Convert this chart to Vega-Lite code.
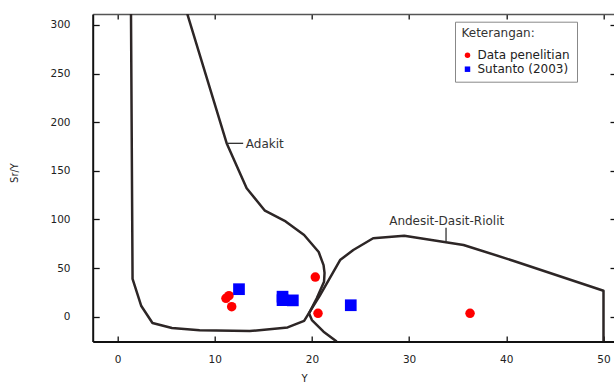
{
  "$schema": "https://vega.github.io/schema/vega-lite/v6.json",
  "width": 521.3,
  "height": 327.5,
  "autosize": {"type": "none"},
  "padding": {"left": 92.7, "top": 14, "right": 0, "bottom": 45.5},
  "background": "white",
  "config": {"view": {"stroke": null}, "font": "DejaVu Sans", "axis": {"grid": false}},
  "datasets": {
    "curves": [
      {"curve": "Adakit", "order": 1, "x": 7.18, "y": 311.4},
      {"curve": "Adakit", "order": 2, "x": 11.23, "y": 178.4},
      {"curve": "Adakit", "order": 3, "x": 13.29, "y": 132.1},
      {"curve": "Adakit", "order": 4, "x": 15.17, "y": 109},
      {"curve": "Adakit", "order": 5, "x": 17.3, "y": 98},
      {"curve": "Adakit", "order": 6, "x": 19.2, "y": 84},
      {"curve": "Adakit", "order": 7, "x": 20.7, "y": 66.5},
      {"curve": "Adakit", "order": 8, "x": 21.2, "y": 53},
      {"curve": "Adakit", "order": 9, "x": 21.3, "y": 45},
      {"curve": "Adakit", "order": 10, "x": 21.25, "y": 36},
      {"curve": "Adakit", "order": 11, "x": 20.5, "y": 18.9},
      {"curve": "Adakit", "order": 12, "x": 19.7, "y": 3.5},
      {"curve": "Adakit", "order": 13, "x": 20.0, "y": -3.4},
      {"curve": "Adakit", "order": 14, "x": 21.2, "y": -15.4},
      {"curve": "Adakit", "order": 15, "x": 22.55, "y": -25.5},
      {"curve": "ADR", "order": 1, "x": 1.39, "y": 311.4},
      {"curve": "ADR", "order": 2, "x": 1.55, "y": 39},
      {"curve": "ADR", "order": 3, "x": 2.45, "y": 11},
      {"curve": "ADR", "order": 4, "x": 3.6, "y": -6.5},
      {"curve": "ADR", "order": 5, "x": 5.6, "y": -11.7},
      {"curve": "ADR", "order": 6, "x": 8.45, "y": -14},
      {"curve": "ADR", "order": 7, "x": 13.6, "y": -14.8},
      {"curve": "ADR", "order": 8, "x": 17.5, "y": -11},
      {"curve": "ADR", "order": 9, "x": 19.2, "y": -4.2},
      {"curve": "ADR", "order": 10, "x": 20.8, "y": 21.5},
      {"curve": "ADR", "order": 11, "x": 22.9, "y": 58.3},
      {"curve": "ADR", "order": 12, "x": 24.26, "y": 68.6},
      {"curve": "ADR", "order": 13, "x": 26.3, "y": 80.7},
      {"curve": "ADR", "order": 14, "x": 29.5, "y": 83.3},
      {"curve": "ADR", "order": 15, "x": 35.6, "y": 73.8},
      {"curve": "ADR", "order": 16, "x": 40.7, "y": 57.6},
      {"curve": "ADR", "order": 17, "x": 50.0, "y": 26.7},
      {"curve": "ADR", "order": 18, "x": 50.0, "y": -25.5}
    ],
    "connectors": [
      {"x1": 11.23, "x2": 12.93, "y1": 178.3, "y2": 178.3},
      {"x1": 33.8, "x2": 33.8, "y1": 91.5, "y2": 77.1}
    ],
    "labels": [
      {"label": "Adakit", "x": 13.2, "y": 177.3},
      {"label": "Andesit-Dasit-Riolit", "x": 27.95, "y": 98.7}
    ],
    "penelitian": [
      {"series": "Data penelitian", "x": 20.35, "y": 40.8},
      {"series": "Data penelitian", "x": 11.16, "y": 18.9},
      {"series": "Data penelitian", "x": 11.47, "y": 21.6},
      {"series": "Data penelitian", "x": 11.75, "y": 10.3},
      {"series": "Data penelitian", "x": 20.63, "y": 3.5},
      {"series": "Data penelitian", "x": 36.27, "y": 3.5}
    ],
    "sutanto": [
      {"series": "Sutanto (2003)", "x": 12.5, "y": 28.3},
      {"series": "Sutanto (2003)", "x": 16.98, "y": 20.6},
      {"series": "Sutanto (2003)", "x": 16.98, "y": 17},
      {"series": "Sutanto (2003)", "x": 18.04, "y": 16.8},
      {"series": "Sutanto (2003)", "x": 24.0, "y": 11.8}
    ]
  },
  "layer": [
    {
      "data": {"name": "curves"},
      "mark": {"type": "line", "color": "#2d2626", "strokeWidth": 2.5, "strokeJoin": "round", "clip": true},
      "encoding": {
        "x": {"field": "x", "type": "quantitative", "scale": {"domain": [-2.55, 51.08], "nice": false, "zero": false},
          "axis": {"orient": "bottom", "values": [0, 10, 20, 30, 40, 50], "format": "d", "tickSize": -5.5, "tickWidth": 1.3, "tickColor": "#111", "domainColor": "#111", "domainWidth": 2, "labelFont": "DejaVu Sans", "labelFontSize": 10.5, "labelColor": "#222", "labelPadding": 18.3, "labelFlush": false, "title": "Y", "titleFont": "DejaVu Sans", "titleFontSize": 10, "titleFontWeight": "normal", "titleColor": "#222", "titleX": 211.3, "titleY": 32, "titleBaseline": "top", "titleAlign": "center"}},
        "y": {"field": "y", "type": "quantitative", "scale": {"domain": [-25.5, 311.3], "nice": false, "zero": false},
          "axis": {"orient": "left", "values": [0, 50, 100, 150, 200, 250, 300], "format": "d", "tickSize": -6.5, "tickWidth": 1.3, "tickColor": "#111", "domainColor": "#111", "domainWidth": 2, "labelFont": "DejaVu Sans", "labelFontSize": 10.5, "labelColor": "#222", "labelPadding": 29.2, "labelFlush": false, "title": "Sr/Y", "titleFont": "DejaVu Sans", "titleFontSize": 10, "titleFontWeight": "normal", "titleColor": "#222", "titleX": -78, "titleY": 158.5, "titleAngle": -90, "titleAlign": "center", "titleBaseline": "middle"}},
        "detail": {"field": "curve", "type": "nominal"},
        "order": {"field": "order", "type": "quantitative"}
      }
    },
    {
      "data": {"name": "connectors"},
      "mark": {"type": "rule", "color": "#333", "strokeWidth": 1.3},
      "encoding": {
        "x": {"field": "x1", "type": "quantitative", "scale": {"domain": [-2.55, 51.08], "nice": false, "zero": false},
          "axis": {"orient": "top", "values": [0, 10, 20, 30, 40, 50], "labels": false, "tickSize": -5, "tickWidth": 1.3, "tickColor": "#111", "domainColor": "#555", "domainWidth": 1.5, "title": null}},
        "x2": {"field": "x2"},
        "y": {"field": "y1", "type": "quantitative", "scale": {"domain": [-25.5, 311.3], "nice": false, "zero": false},
          "axis": {"orient": "right", "values": [0, 50, 100, 150, 200, 250, 300], "labels": false, "tickSize": -4, "tickWidth": 1.3, "tickColor": "#111", "domain": false, "title": null}},
        "y2": {"field": "y2"}
      }
    },
    {
      "data": {"name": "labels"},
      "mark": {"type": "text", "align": "left", "baseline": "middle", "font": "DejaVu Sans", "fontSize": 12, "color": "#333"},
      "encoding": {
        "x": {"field": "x", "type": "quantitative", "scale": {"domain": [-2.55, 51.08], "nice": false, "zero": false}, "axis": null},
        "y": {"field": "y", "type": "quantitative", "scale": {"domain": [-25.5, 311.3], "nice": false, "zero": false}, "axis": null},
        "text": {"field": "label", "type": "nominal"}
      }
    },
    {
      "data": {"name": "penelitian"},
      "mark": {"type": "point", "filled": true, "opacity": 1, "strokeWidth": 0, "size": 90},
      "encoding": {
        "x": {"field": "x", "type": "quantitative", "scale": {"domain": [-2.55, 51.08], "nice": false, "zero": false}, "axis": null},
        "y": {"field": "y", "type": "quantitative", "scale": {"domain": [-25.5, 311.3], "nice": false, "zero": false}, "axis": null},
        "color": {"field": "series", "type": "nominal",
          "scale": {"domain": ["Data penelitian", "Sutanto (2003)"], "range": ["#ff0000", "#0000ff"]},
          "legend": {"title": "Keterangan:", "orient": "none", "legendX": 362.3, "legendY": 7.7, "padding": 6.5, "strokeColor": "#888", "fillColor": "white", "cornerRadius": 0, "titleFont": "DejaVu Sans", "titleFontSize": 12, "titleFontWeight": "normal", "titleColor": "#333", "titlePadding": 9, "labelFont": "DejaVu Sans", "labelFontSize": 12, "labelColor": "#222", "symbolSize": 30, "labelOffset": 4, "rowPadding": 2}},
        "shape": {"field": "series", "type": "nominal",
          "scale": {"domain": ["Data penelitian", "Sutanto (2003)"], "range": ["circle", "square"]}}
      }
    },
    {
      "data": {"name": "sutanto"},
      "mark": {"type": "point", "filled": true, "opacity": 1, "strokeWidth": 0, "size": 137},
      "encoding": {
        "x": {"field": "x", "type": "quantitative", "scale": {"domain": [-2.55, 51.08], "nice": false, "zero": false}, "axis": null},
        "y": {"field": "y", "type": "quantitative", "scale": {"domain": [-25.5, 311.3], "nice": false, "zero": false}, "axis": null},
        "color": {"field": "series", "type": "nominal",
          "scale": {"domain": ["Data penelitian", "Sutanto (2003)"], "range": ["#ff0000", "#0000ff"]}},
        "shape": {"field": "series", "type": "nominal",
          "scale": {"domain": ["Data penelitian", "Sutanto (2003)"], "range": ["circle", "square"]}}
      }
    }
  ],
  "resolve": {"axis": {"x": "independent", "y": "independent"}}
}
